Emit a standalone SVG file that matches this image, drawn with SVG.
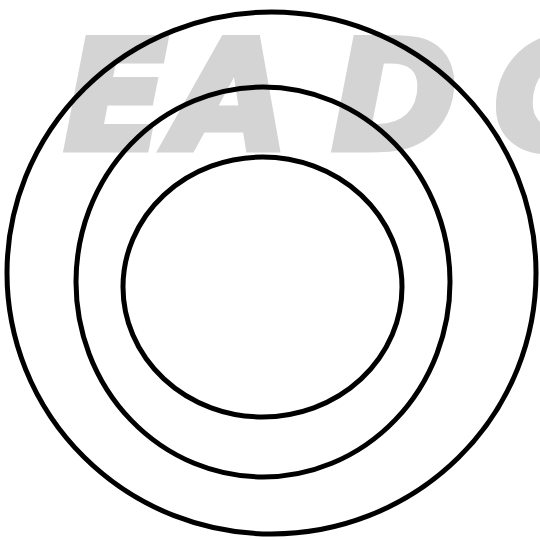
<svg xmlns="http://www.w3.org/2000/svg" width="540" height="540" viewBox="0 0 540 540">
  <style>
    .ring { fill: none; stroke: #000000; stroke-width: 5px; }
    .wm { fill: #d4d4d4; stroke: #d4d4d4; stroke-width: 7px; stroke-linejoin: miter; font-family: "DejaVu Sans", "Liberation Sans", sans-serif; font-weight: 700; font-style: oblique; font-size: 151px; }
  </style>
  <rect x="0" y="0" width="540" height="540" fill="#ffffff"/>
  <g id="watermark">
    <text class="wm" fill="#d4d4d4" stroke="#d4d4d4" stroke-width="7" font-weight="700" x="64 172 332 494" y="148.5">EADC</text>
  </g>
  <g id="outer">
    <ellipse class="ring" stroke-width="5" cx="271.5" cy="273" rx="264.5" ry="261"/>
  </g>
  <g id="middle">
    <ellipse class="ring" stroke-width="5" cx="263" cy="282" rx="187" ry="195"/>
  </g>
  <g id="inner">
    <ellipse class="ring" stroke-width="5" cx="262.5" cy="287" rx="139.5" ry="130"/>
  </g>
</svg>
